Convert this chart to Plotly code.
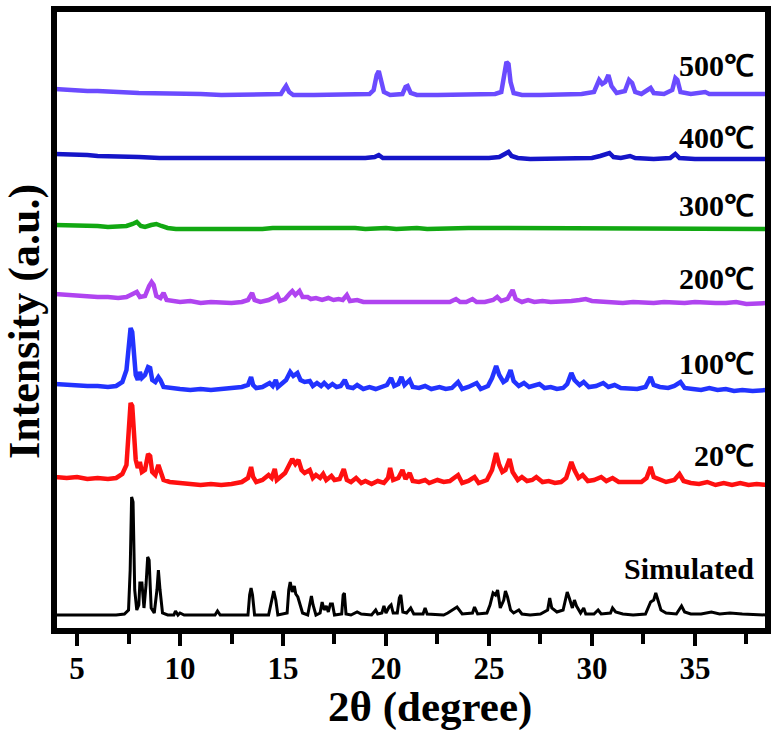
import plotly.graph_objects as go

# ---- data (2θ, stacked intensity in arbitrary units) ----
SIMULATED = [(3.9,15),(6.9,15),(7.3,16),(7.5,20),(7.58,60),(7.65,133),(7.72,128),(7.8,40),(7.9,20),(8.0,25),(8.05,47),(8.15,47),(8.25,22),(8.35,45),(8.43,73),(8.5,70),(8.6,22),(8.75,17),(8.88,40),(8.95,60),(9.03,40),(9.15,17),(9.4,15),(9.7,15),(9.78,19),(9.9,15),(10.0,17),(10.2,15),(11.7,15),(11.82,19),(11.95,15),(13.3,15),(13.38,35),(13.45,42),(13.52,35),(13.62,15),(14.3,15),(14.45,30),(14.55,39),(14.65,30),(14.75,15),(15.2,17),(15.28,40),(15.35,48),(15.45,38),(15.55,44),(15.62,36),(15.72,33),(15.82,25),(15.95,17),(16.2,15),(16.3,28),(16.38,34),(16.46,25),(16.6,15),(16.8,17),(16.9,28),(17.0,20),(17.1,24),(17.2,18),(17.3,26),(17.4,26),(17.5,15),(17.85,16),(17.92,35),(17.98,37),(18.06,16),(18.3,15),(18.6,18),(18.8,16),(19.3,15),(19.5,20),(19.6,16),(19.8,17),(19.9,24),(20.0,17),(20.15,23),(20.25,25),(20.35,17),(20.55,17),(20.65,32),(20.72,35),(20.82,18),(21.0,17),(21.2,22),(21.35,16),(21.8,16),(21.9,22),(22.0,16),(22.8,15),(23.0,17),(23.45,23),(23.55,20),(23.7,16),(24.2,17),(24.3,23),(24.45,16),(24.9,17),(25.05,25),(25.2,37),(25.32,35),(25.42,40),(25.55,22),(25.72,30),(25.8,39),(25.9,33),(26.05,20),(26.2,17),(26.45,20),(26.6,16),(27.0,15),(27.5,16),(27.85,20),(27.95,32),(28.05,22),(28.3,18),(28.6,20),(28.72,30),(28.8,38),(28.9,32),(29.05,22),(29.15,30),(29.25,24),(29.45,17),(29.6,22),(29.7,16),(30.1,16),(30.3,20),(30.45,16),(30.9,17),(31.0,22),(31.15,18),(31.5,16),(32.0,15),(32.6,16),(32.85,28),(33.0,30),(33.1,37),(33.2,31),(33.35,20),(33.6,17),(34.1,16),(34.35,24),(34.5,18),(34.8,16),(35.3,16),(35.8,18),(36.2,16),(36.7,17),(37.3,16),(38.5,15)]

T20 = [(3.9,153),(4.5,152),(5.0,153),(5.5,151),(6.0,152),(6.5,151),(6.9,152),(7.2,156),(7.4,165),(7.5,190),(7.6,227),(7.68,224),(7.76,195),(7.85,170),(7.95,162),(8.05,168),(8.15,158),(8.3,160),(8.45,176),(8.55,174),(8.65,158),(8.8,155),(8.95,165),(9.05,160),(9.2,150),(9.5,148),(10.0,147),(10.5,146),(11.0,145),(11.5,146),(12.0,145),(12.5,146),(13.0,148),(13.3,152),(13.45,163),(13.55,153),(13.7,148),(14.0,150),(14.3,155),(14.45,152),(14.6,161),(14.7,150),(14.9,153),(15.1,157),(15.3,165),(15.45,171),(15.6,166),(15.75,170),(15.9,160),(16.05,157),(16.3,160),(16.45,152),(16.6,155),(16.8,152),(16.95,156),(17.1,150),(17.35,154),(17.5,150),(17.75,151),(17.95,161),(18.1,150),(18.3,148),(18.55,152),(18.8,147),(19.0,149),(19.3,146),(19.6,149),(19.9,147),(20.1,152),(20.2,162),(20.35,150),(20.6,152),(20.8,160),(20.95,151),(21.15,157),(21.3,149),(21.6,148),(21.9,150),(22.1,147),(22.5,150),(22.8,148),(23.1,149),(23.5,155),(23.7,147),(24.0,149),(24.3,153),(24.5,147),(24.9,150),(25.15,160),(25.35,177),(25.5,165),(25.65,158),(25.8,160),(26.0,171),(26.15,158),(26.4,150),(26.6,153),(26.85,149),(27.1,150),(27.3,153),(27.6,148),(27.9,149),(28.2,147),(28.5,148),(28.75,152),(29.0,168),(29.15,160),(29.35,152),(29.55,155),(29.8,149),(30.1,150),(30.45,153),(30.7,149),(31.0,152),(31.3,148),(31.7,148),(32.0,147),(32.4,148),(32.65,152),(32.85,163),(33.0,153),(33.3,150),(33.6,148),(34.0,150),(34.25,156),(34.45,149),(34.8,147),(35.2,146),(35.6,148),(36.0,145),(36.4,147),(36.8,145),(37.2,147),(37.6,145),(38.0,146),(38.5,145)]

T100 = [(3.9,246),(4.5,245),(5.0,245),(5.5,244),(6.0,244),(6.5,243),(6.9,244),(7.2,248),(7.4,260),(7.5,285),(7.6,302),(7.68,298),(7.76,275),(7.85,255),(7.95,250),(8.05,258),(8.15,252),(8.3,255),(8.45,263),(8.55,262),(8.65,250),(8.8,248),(8.95,253),(9.05,250),(9.2,243),(9.5,242),(10.0,241),(10.5,240),(11.0,241),(11.5,240),(12.0,241),(12.5,241),(13.0,243),(13.3,245),(13.45,253),(13.55,245),(13.7,242),(14.0,243),(14.35,247),(14.5,244),(14.65,250),(14.75,243),(14.95,246),(15.15,250),(15.35,258),(15.5,254),(15.7,257),(15.85,250),(16.05,248),(16.3,249),(16.45,244),(16.65,247),(16.85,244),(17.0,247),(17.2,243),(17.4,246),(17.6,243),(17.8,244),(18.0,250),(18.15,243),(18.4,242),(18.6,245),(18.9,241),(19.2,243),(19.5,241),(19.8,243),(20.05,245),(20.25,252),(20.4,244),(20.6,246),(20.75,253),(20.9,245),(21.15,250),(21.3,243),(21.6,242),(21.9,244),(22.2,241),(22.6,243),(22.9,241),(23.2,242),(23.5,248),(23.7,241),(24.0,243),(24.4,247),(24.6,241),(24.95,244),(25.15,252),(25.35,264),(25.5,255),(25.7,248),(25.85,250),(26.05,260),(26.2,249),(26.45,244),(26.7,247),(26.95,243),(27.2,244),(27.45,246),(27.7,242),(28.0,243),(28.3,241),(28.6,242),(28.8,246),(29.0,257),(29.15,250),(29.4,245),(29.6,248),(29.85,243),(30.2,244),(30.55,247),(30.8,243),(31.1,245),(31.4,242),(31.8,242),(32.2,241),(32.6,243),(32.85,253),(33.0,245),(33.3,243),(33.7,242),(34.0,244),(34.3,248),(34.5,242),(34.9,241),(35.3,240),(35.7,242),(36.1,240),(36.5,241),(36.9,239),(37.3,240),(37.8,239),(38.5,240)]

T200 = [(3.9,336),(4.5,335),(5.0,335),(5.5,334),(6.0,333),(6.5,333),(7.0,332),(7.4,333),(7.75,336),(7.9,338),(8.05,333),(8.3,334),(8.5,344),(8.62,348),(8.72,345),(8.85,334),(9.05,332),(9.2,337),(9.35,330),(9.6,329),(10.0,328),(10.5,329),(11.0,327),(11.5,328),(12.0,327),(12.5,327),(13.0,328),(13.3,330),(13.5,337),(13.62,330),(13.9,328),(14.3,330),(14.6,333),(14.72,335),(14.85,329),(15.1,331),(15.35,337),(15.45,339),(15.6,335),(15.8,339),(15.95,333),(16.2,333),(16.35,331),(16.6,332),(16.9,330),(17.2,332),(17.45,330),(17.7,331),(17.9,330),(18.1,335),(18.25,329),(18.6,330),(18.9,328),(19.3,328),(19.7,327),(20.2,328),(20.7,327),(21.2,328),(21.7,327),(22.2,328),(22.7,327),(23.1,328),(23.4,331),(23.6,328),(23.9,328),(24.2,331),(24.4,328),(24.8,328),(25.2,330),(25.4,333),(25.6,329),(25.9,331),(26.15,340),(26.3,331),(26.6,328),(26.9,330),(27.2,328),(27.6,329),(28.0,328),(28.5,328),(29.0,329),(29.4,330),(29.7,331),(30.0,329),(30.5,328),(31.0,328),(31.5,327),(32.0,328),(32.5,327),(33.0,327),(33.5,328),(34.0,327),(34.5,327),(35.0,328),(35.5,327),(36.0,327),(36.5,327),(37.0,328),(37.5,326),(38.0,327),(38.5,327)]

T300 = [(3.9,405),(4.5,405),(5.0,404),(5.5,404),(6.0,404),(6.5,403),(7.0,404),(7.4,404),(7.7,406),(7.9,408),(8.1,404),(8.3,403),(8.6,405),(8.85,406),(9.1,404),(9.4,402),(9.8,401),(10.5,401),(11.0,401),(11.5,400),(12.0,401),(12.5,401),(13.0,401),(13.5,401),(14.0,401),(14.5,402),(15.0,402),(15.5,402),(16.0,403),(16.5,403),(17.0,403),(17.5,402),(18.0,402),(18.5,402),(19.0,401),(19.5,402),(20.0,402),(20.5,401),(21.0,402),(21.5,402),(22.0,401),(23.0,402),(24.0,402),(25.0,402),(26.0,402),(27.0,401),(28.0,401),(29.0,402),(30.0,401),(31.0,401),(32.0,401),(33.0,401),(34.0,401),(35.0,401),(36.0,401),(37.0,401),(38.5,401)]

T400 = [(3.9,476),(4.5,476),(5.0,475),(5.5,475),(6.0,474),(6.5,474),(7.0,473),(7.5,473),(8.0,473),(9.0,472),(10.0,472),(11.0,472),(12.0,471),(13.0,471),(14.0,471),(15.0,471),(15.2,472),(16.0,471),(17.0,471),(18.0,471),(19.0,472),(19.45,473),(19.65,475),(19.85,472),(20.5,472),(21.5,471),(22.5,472),(23.5,471),(24.5,472),(25.0,472),(25.5,473),(25.8,476),(25.95,478),(26.1,474),(26.4,472),(27.0,471),(28.0,471),(29.0,471),(30.0,472),(30.4,474),(30.85,477),(31.05,473),(31.4,472),(31.85,474),(32.1,472),(33.0,471),(33.8,472),(34.05,476),(34.25,472),(35.0,471),(36.0,471),(37.0,471),(38.5,471)]

T500 = [(3.9,541),(4.5,540),(5.0,540),(5.5,539),(6.0,539),(6.5,538),(7.0,538),(8.0,537),(9.0,537),(10.0,536),(11.0,536),(12.0,535),(13.0,535),(14.0,535),(14.9,536),(15.05,541),(15.15,544),(15.3,538),(15.5,535),(16.5,535),(17.5,535),(18.5,535),(19.2,536),(19.4,540),(19.55,555),(19.65,559),(19.75,552),(19.9,538),(20.2,535),(20.8,536),(20.95,543),(21.05,544),(21.2,537),(21.5,535),(22.5,535),(23.5,535),(24.5,535),(25.3,536),(25.6,538),(25.75,555),(25.85,568),(25.95,566),(26.05,548),(26.2,537),(26.6,535),(27.5,535),(28.5,535),(29.5,536),(30.1,538),(30.35,550),(30.5,546),(30.65,548),(30.8,555),(30.95,544),(31.2,537),(31.6,539),(31.8,550),(31.95,547),(32.1,538),(32.4,536),(32.7,540),(32.85,542),(33.0,537),(33.5,536),(33.9,540),(34.05,552),(34.15,550),(34.3,538),(34.8,536),(35.5,538),(35.7,536),(36.5,536),(36.8,537),(37.0,536),(38.5,536)]

SERIES_NAMES = ["Simulated", "20℃", "100℃", "200℃", "300℃", "400℃", "500℃"]
SERIES_DATA = [SIMULATED, T20, T100, T200, T300, T400, T500]
SERIES_COLORS = ["#000000", "#FF1010", "#2233FF", "#B044F0", "#12A812", "#1515C8", "#6B4BFF"]
SERIES_WIDTHS = [3, 4.5, 4.5, 4.5, 4.5, 4.5, 4.5]
LABEL_Y = [62, 175, 267, 352, 425, 493, 565]

X_TICKS = [5, 10, 15, 20, 25, 30, 35]
X_MINOR = [7.5, 12.5, 17.5, 22.5, 27.5, 32.5, 37.5]
X_TITLE = "2θ (degree)"
Y_TITLE = "Intensity (a.u.)"

FONT = "Liberation Serif"

fig = go.Figure()
for name, data, color, w in zip(SERIES_NAMES, SERIES_DATA, SERIES_COLORS, SERIES_WIDTHS):
    xs = [p[0] for p in data]
    ys = [p[1] for p in data]
    fig.add_trace(go.Scatter(x=xs, y=ys, mode="lines", name=name,
                             line=dict(color=color, width=w), showlegend=False))

for name, ly in zip(SERIES_NAMES, LABEL_Y):
    fig.add_annotation(x=0.985, xref="paper", y=ly, yref="y", text="<b>" + name + "</b>",
                       showarrow=False, xanchor="right", yanchor="middle",
                       font=dict(family=FONT, size=30, color="black"))

# axis titles
fig.add_annotation(x=0.527, xref="paper", y=-0.124, yref="paper", text="<b>" + X_TITLE + "</b>",
                   showarrow=False, xanchor="center", yanchor="middle",
                   font=dict(family=FONT, size=43, color="black"))
fig.add_annotation(x=-0.042, xref="paper", y=0.497, yref="paper", text="<b>" + Y_TITLE + "</b>",
                   showarrow=False, xanchor="center", yanchor="middle", textangle=-90,
                   font=dict(family=FONT, size=44, color="black"))

# frame
fig.add_shape(type="rect", xref="paper", yref="paper", x0=0, y0=0, x1=1, y1=1,
              line=dict(color="black", width=4), layer="above")

fig.update_layout(
    width=779, height=733,
    margin=dict(l=55, r=12, t=10, b=103),
    paper_bgcolor="white", plot_bgcolor="white",
    font=dict(family=FONT, color="black"),
    xaxis=dict(range=[3.93, 38.5], tickmode="array", tickvals=X_TICKS,
               ticktext=["<b>" + str(t) + "</b>" for t in X_TICKS],
               ticks="outside", ticklen=12, tickwidth=4, tickcolor="black",
               minor=dict(tickvals=X_MINOR,
                          ticks="outside", ticklen=10, tickwidth=4, tickcolor="black"),
               showline=True, linewidth=4, linecolor="black", mirror=True,
               showgrid=False, zeroline=False, automargin=False,
               ticklabelstandoff=-4,
               tickfont=dict(family=FONT, size=31, color="black")),
    yaxis=dict(range=[0, 620], showticklabels=False, ticks="",
               showline=True, linewidth=4, linecolor="black", mirror=True,
               showgrid=False, zeroline=False, automargin=False),
)

fig.write_html("out.html", config={"displayModeBar": False},
               post_script="document.body.style.margin='0';document.body.style.overflow='hidden';")
